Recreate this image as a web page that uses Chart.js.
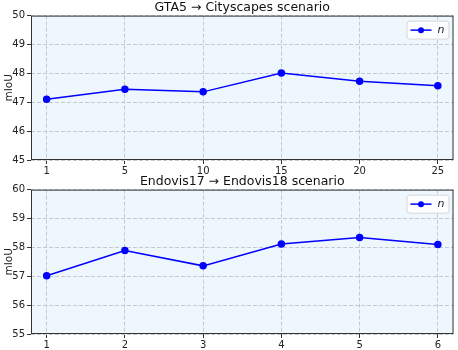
<!DOCTYPE html>
<html>
<head>
<meta charset="utf-8">
<script src="https://cdn.jsdelivr.net/npm/chart.js@4"></script>
<style>
  body { margin: 0; background: #fff; }
  .box { position: absolute; left: 0; width: 458px; }
  #wrap1 { top: 0; height: 175px; }
  #wrap2 { top: 174px; height: 175px; }
</style>
</head>
<body>
<div class="box" id="wrap1"><canvas id="chart1"></canvas></div>
<div class="box" id="wrap2"><canvas id="chart2"></canvas></div>
<script>
  // data
  const gtaLabels = ["1", "5", "10", "15", "20", "25"];
  const gtaMiou = [47.1, 47.45, 47.36, 48.01, 47.73, 47.57];
  const endoLabels = ["1", "2", "3", "4", "5", "6"];
  const endoMiou = [57.02, 57.89, 57.36, 58.12, 58.34, 58.1];

  const fontFamily = "'DejaVu Sans', sans-serif";

  // plot background, frame and an inside legend like matplotlib
  const frameBox = {
    id: "frameBox",
    beforeDraw(chart) {
      const { ctx, chartArea: a } = chart;
      ctx.save();
      ctx.fillStyle = "#eef6fe";
      ctx.fillRect(a.left, a.top, a.right - a.left, a.bottom - a.top);
      ctx.restore();
    },
    afterDraw(chart) {
      const { ctx, chartArea: a } = chart;
      ctx.save();
      ctx.strokeStyle = "#333";
      ctx.lineWidth = 1;
      ctx.strokeRect(a.left + 0.5, a.top + 0.5, a.right - a.left - 1, a.bottom - a.top - 1);

      // legend
      const ds = chart.data.datasets[0];
      const w = 42, h = 18;
      const x = a.right - w - 5, y = a.top + 5;
      ctx.fillStyle = "rgba(255,255,255,0.85)";
      ctx.strokeStyle = "#d6d6d6";
      ctx.beginPath();
      ctx.roundRect(x + 0.5, y + 0.5, w, h, 3);
      ctx.fill();
      ctx.stroke();
      const cy = y + h / 2 + 0.5;
      ctx.strokeStyle = ds.borderColor;
      ctx.lineWidth = 1.5;
      ctx.beginPath();
      ctx.moveTo(x + 4, cy);
      ctx.lineTo(x + 25, cy);
      ctx.stroke();
      ctx.fillStyle = ds.borderColor;
      ctx.beginPath();
      ctx.arc(x + 14.5, cy, 3, 0, Math.PI * 2);
      ctx.fill();
      ctx.fillStyle = "#222";
      ctx.font = "italic 11px " + fontFamily;
      ctx.textBaseline = "middle";
      ctx.fillText(ds.label, x + 31, cy);
      ctx.restore();
    },
  };

  function makeChart(canvasId, title, labels, values, yMin, yMax) {
    const ctx = document.getElementById(canvasId).getContext("2d");
    return new Chart(ctx, {
      type: "line",
      data: {
        datasets: [
          {
            label: "n",
            data: values.map((v, i) => ({ x: i, y: v })),
            borderColor: "#0000ff",
            backgroundColor: "#0000ff",
            borderWidth: 1.5,
            pointRadius: 3,
            pointHoverRadius: 3,
            tension: 0,
          },
        ],
      },
      options: {
        responsive: true,
        maintainAspectRatio: false,
        animation: false,
        layout: {
          padding: { left: 0, right: 4, top: 0, bottom: 0 },
        },
        plugins: {
          legend: {
            display: false,
          },
          tooltip: {
            enabled: false,
          },
          title: {
            display: true,
            text: title,
            fullSize: false,
            color: "#111",
            font: { family: fontFamily, size: 12.5, weight: "normal", lineHeight: 1.25 },
            padding: { top: 0, bottom: 0 },
          },
        },
        scales: {
          x: {
            type: "linear",
            min: -0.2,
            max: 5.2,
            afterBuildTicks(scale) {
              scale.ticks = labels.map((_, i) => ({ value: i }));
            },
            afterFit(scale) {
              scale.height = 15;
            },
            ticks: {
              callback: (v) => labels[v],
              color: "#222",
              font: { family: fontFamily, size: 10 },
              padding: 1,
              maxRotation: 0,
            },
            grid: {
              color: "#c4c8cf",
              drawTicks: true,
              tickLength: 4,
              tickColor: "#333",
              tickBorderDash: [],
            },
            border: { display: false, dash: [4, 2] },
          },
          y: {
            min: yMin,
            max: yMax,
            afterFit(scale) {
              scale.width = 31;
            },
            ticks: {
              stepSize: 1,
              color: "#222",
              font: { family: fontFamily, size: 10 },
              padding: 2,
            },
            title: {
              display: true,
              text: "mIoU",
              color: "#222",
              font: { family: fontFamily, size: 10.5 },
              padding: { top: 3, bottom: 0 },
            },
            grid: {
              color: "#c4c8cf",
              drawTicks: true,
              tickLength: 4,
              tickColor: "#333",
              tickBorderDash: [],
            },
            border: { display: false, dash: [4, 2] },
          },
        },
      },
      plugins: [frameBox],
    });
  }

  makeChart("chart1", "GTA5 \u2192 Cityscapes scenario", gtaLabels, gtaMiou, 45, 50);
  makeChart("chart2", "Endovis17 \u2192 Endovis18 scenario", endoLabels, endoMiou, 55, 60);
</script>
</body>
</html>
